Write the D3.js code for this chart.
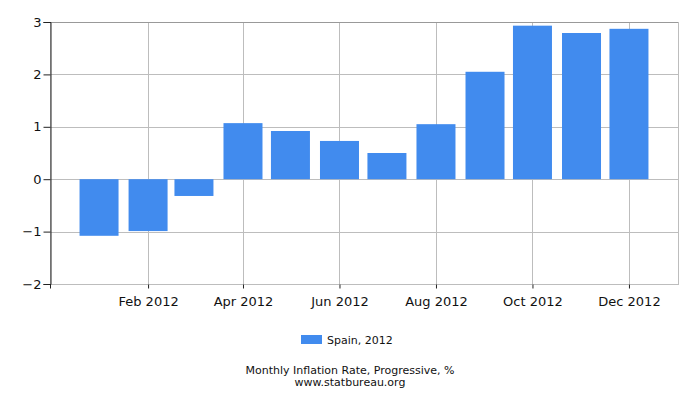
<!DOCTYPE html>
<html>
<head>
<meta charset="utf-8">
<script src="https://cdn.jsdelivr.net/npm/d3@7"></script>
<style>
  body { margin: 0; background: #fff; }
  text { font-family: 'DejaVu Sans', sans-serif; }
</style>
</head>
<body>
<svg id="chart" width="700" height="400"></svg>
<script>
const months = ['2012-01', '2012-02', '2012-03', '2012-04', '2012-05', '2012-06',
  '2012-07', '2012-08', '2012-09', '2012-10', '2012-11', '2012-12']
const values = [-1.08, -0.99, -0.32, 1.07, 0.92, 0.73, 0.5, 1.05, 2.05, 2.93, 2.79, 2.87]
const yTicks = [-2, -1, 0, 1, 2, 3]
const xTickMonths = ['2011-12', '2012-02', '2012-04', '2012-06', '2012-08', '2012-10', '2012-12']
const seriesName = 'Spain, 2012'
const title = 'Monthly Inflation Rate, Progressive, %'
const source = 'www.statbureau.org'

const svg = d3.select('#chart')
const margin = { top: 22, right: 22, bottom: 116, left: 50 }
const width = 700
const height = 400
const barColor = '#418bee'
const gridColor = '#bdbdbd'

const parse = d3.timeParse('%Y-%m')
const data = months.map((m, i) => ({ date: parse(m), value: values[i] }))

const x = d3.scaleTime()
  .domain([parse('2011-12'), parse('2013-01')])
  .range([margin.left, width - margin.right])

const y = d3.scaleLinear()
  .domain([-2, 3])
  .range([height - margin.bottom, margin.top])

const barWidth = 39

// Grid
svg.append('g')
  .selectAll('line')
  .data(yTicks)
  .join('line')
  .attr('x1', margin.left)
  .attr('x2', width - margin.right)
  .attr('y1', d => Math.round(y(d)) + 0.5)
  .attr('y2', d => Math.round(y(d)) + 0.5)
  .attr('stroke', gridColor)

svg.append('g')
  .selectAll('line')
  .data(xTickMonths.slice(1).map(parse))
  .join('line')
  .attr('x1', d => Math.round(x(d)) + 0.5)
  .attr('x2', d => Math.round(x(d)) + 0.5)
  .attr('y1', margin.top)
  .attr('y2', height - margin.bottom)
  .attr('stroke', gridColor)

// Border
svg.append('rect')
  .attr('x', margin.left + 0.5)
  .attr('y', Math.round(margin.top) + 0.5)
  .attr('width', width - margin.left - margin.right)
  .attr('height', height - margin.top - margin.bottom)
  .attr('fill', 'none')
  .attr('stroke', gridColor)

svg.append('line')
  .attr('x1', margin.left).attr('x2', width - margin.right)
  .attr('y1', Math.round(margin.top) + 0.5).attr('y2', Math.round(margin.top) + 0.5)
  .attr('stroke', '#999')

// Bars
svg.append('g')
  .selectAll('rect')
  .data(data)
  .join('rect')
  .attr('x', d => x(d.date) - barWidth / 2)
  .attr('y', d => y(Math.max(0, d.value)))
  .attr('width', barWidth)
  .attr('height', d => Math.abs(y(d.value) - y(0)))
  .attr('fill', barColor)

// Axes
const yAxis = svg.append('g')
  .attr('transform', `translate(${margin.left + 0.5},0)`)
  .call(d3.axisLeft(y).tickValues(yTicks).tickSize(7).tickPadding(2).tickFormat(d3.format('d')))
yAxis.select('.domain').attr('stroke', '#222')
yAxis.selectAll('.tick line').attr('stroke', '#222')
yAxis.selectAll('text').style('font-size', '13px').attr('fill', '#111')

const xAxis = svg.append('g')
  .attr('transform', `translate(0,${Math.round(height - margin.bottom) + 0.5})`)
  .call(d3.axisBottom(x)
    .tickValues(xTickMonths.map(parse))
    .tickSize(4)
    .tickPadding(8)
    .tickFormat(d => d.getFullYear() === 2011 ? '' : d3.timeFormat('%b %Y')(d)))
xAxis.select('.domain').remove()
xAxis.selectAll('.tick line').attr('stroke', '#222')
xAxis.selectAll('text').style('font-size', '13px').attr('fill', '#111')

// Legend
const legend = svg.append('g').attr('transform', 'translate(301,335)')
legend.append('rect')
  .attr('width', 21)
  .attr('height', 9)
  .attr('fill', barColor)
legend.append('text')
  .attr('x', 26)
  .attr('y', 9)
  .style('font-size', '11px')
  .attr('fill', '#111')
  .text(seriesName)

// Title
svg.append('text')
  .attr('x', 350)
  .attr('y', 374)
  .attr('text-anchor', 'middle')
  .style('font-size', '11px')
  .attr('fill', '#111')
  .text(title)
svg.append('text')
  .attr('x', 350)
  .attr('y', 386)
  .attr('text-anchor', 'middle')
  .style('font-size', '11px')
  .attr('fill', '#111')
  .text(source)
</script>
</body>
</html>
